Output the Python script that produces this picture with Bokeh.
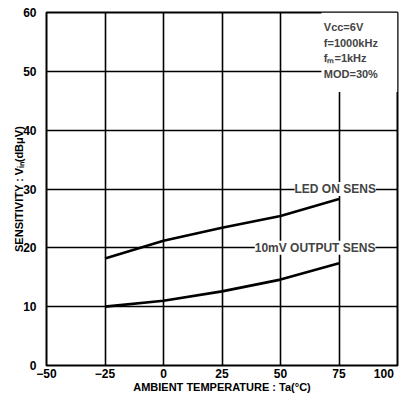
from bokeh.plotting import figure
from bokeh.models import Label, BoxAnnotation, FixedTicker
from bokeh.embed import file_html
from bokeh.resources import INLINE

# data
temp = [-25, 0, 25, 50, 75]
led_on_sens = [18.2, 21.2, 23.4, 25.4, 28.3]
out_10mv_sens = [10.0, 11.0, 12.6, 14.6, 17.4]
x_ticks = [-50, -25, 0, 25, 50, 75, 100]
y_ticks = [0, 10, 20, 30, 40, 50, 60]
cond_lines = ["Vcc=6V", "f=1000kHz", "fₘ=1kHz", "MOD=30%"]

FONT = "Liberation Sans"

p = figure(width=400, height=395, x_range=(-50, 100), y_range=(0, 60),
           output_backend="svg", toolbar_location=None,
           min_border_left=46, min_border_right=3, min_border_top=12, min_border_bottom=28)
p.outline_line_color = "black"
p.outline_line_width = 2
p.background_fill_color = "white"

for ax in (p.xaxis[0], p.yaxis[0]):
    ax.axis_line_color = None
    ax.major_tick_line_color = None
    ax.minor_tick_line_color = None
    ax.major_label_text_font = FONT
    ax.major_label_text_font_style = "bold"
    ax.major_label_text_font_size = "12px"
    ax.major_label_text_color = "black"
    ax.axis_label_text_font = FONT
    ax.axis_label_text_font_style = "bold"
    ax.axis_label_text_color = "black"
    ax.axis_label_text_font_size = "11px"

p.xaxis.ticker = FixedTicker(ticks=x_ticks)
p.yaxis.ticker = FixedTicker(ticks=y_ticks)
# pad the last label so it is not cut at the page edge
p.xaxis.major_label_overrides = {x_ticks[-1]: str(x_ticks[-1]) + "\u2007"}
p.xaxis.major_label_standoff = -5
p.yaxis.major_label_standoff = 4
p.xaxis.axis_label = "AMBIENT TEMPERATURE : Ta(°C)"
p.yaxis.axis_label = "SENSITIVITY : Vᵢₙ(dBμV)"
p.xaxis.axis_label_standoff = -3
p.yaxis.axis_label_standoff = -5

p.xgrid.ticker = FixedTicker(ticks=x_ticks[1:-1])
p.ygrid.ticker = FixedTicker(ticks=y_ticks[1:-1])
for g in (p.xgrid[0], p.ygrid[0]):
    g.grid_line_color = "black"
    g.grid_line_width = 1.6

p.line(temp, led_on_sens, line_color="black", line_width=2.6)
p.line(temp, out_10mv_sens, line_color="black", line_width=2.6)

p.add_layout(Label(x=56, y=30, text="LED ON SENS", text_font=FONT, text_font_style="bold",
                   text_font_size="12px", text_baseline="middle",
                   background_fill_color="white"))
p.add_layout(Label(x=39, y=20, text="10mV OUTPUT SENS", text_font=FONT, text_font_style="bold",
                   text_font_size="12px", text_baseline="middle",
                   background_fill_color="white"))

# conditions panel (white area hiding the grid behind the text)
p.add_layout(BoxAnnotation(left=67.5, right=100, bottom=46.5, top=60,
                           fill_color="white", fill_alpha=1, line_alpha=0))

for i, t in enumerate(cond_lines):
    p.add_layout(Label(x=68.5, y=57.6 - i * 2.7, text=t, text_font=FONT, text_font_style="bold",
                       text_font_size="11px", text_baseline="middle"))

open("out.html", "w").write(file_html(p, INLINE))
